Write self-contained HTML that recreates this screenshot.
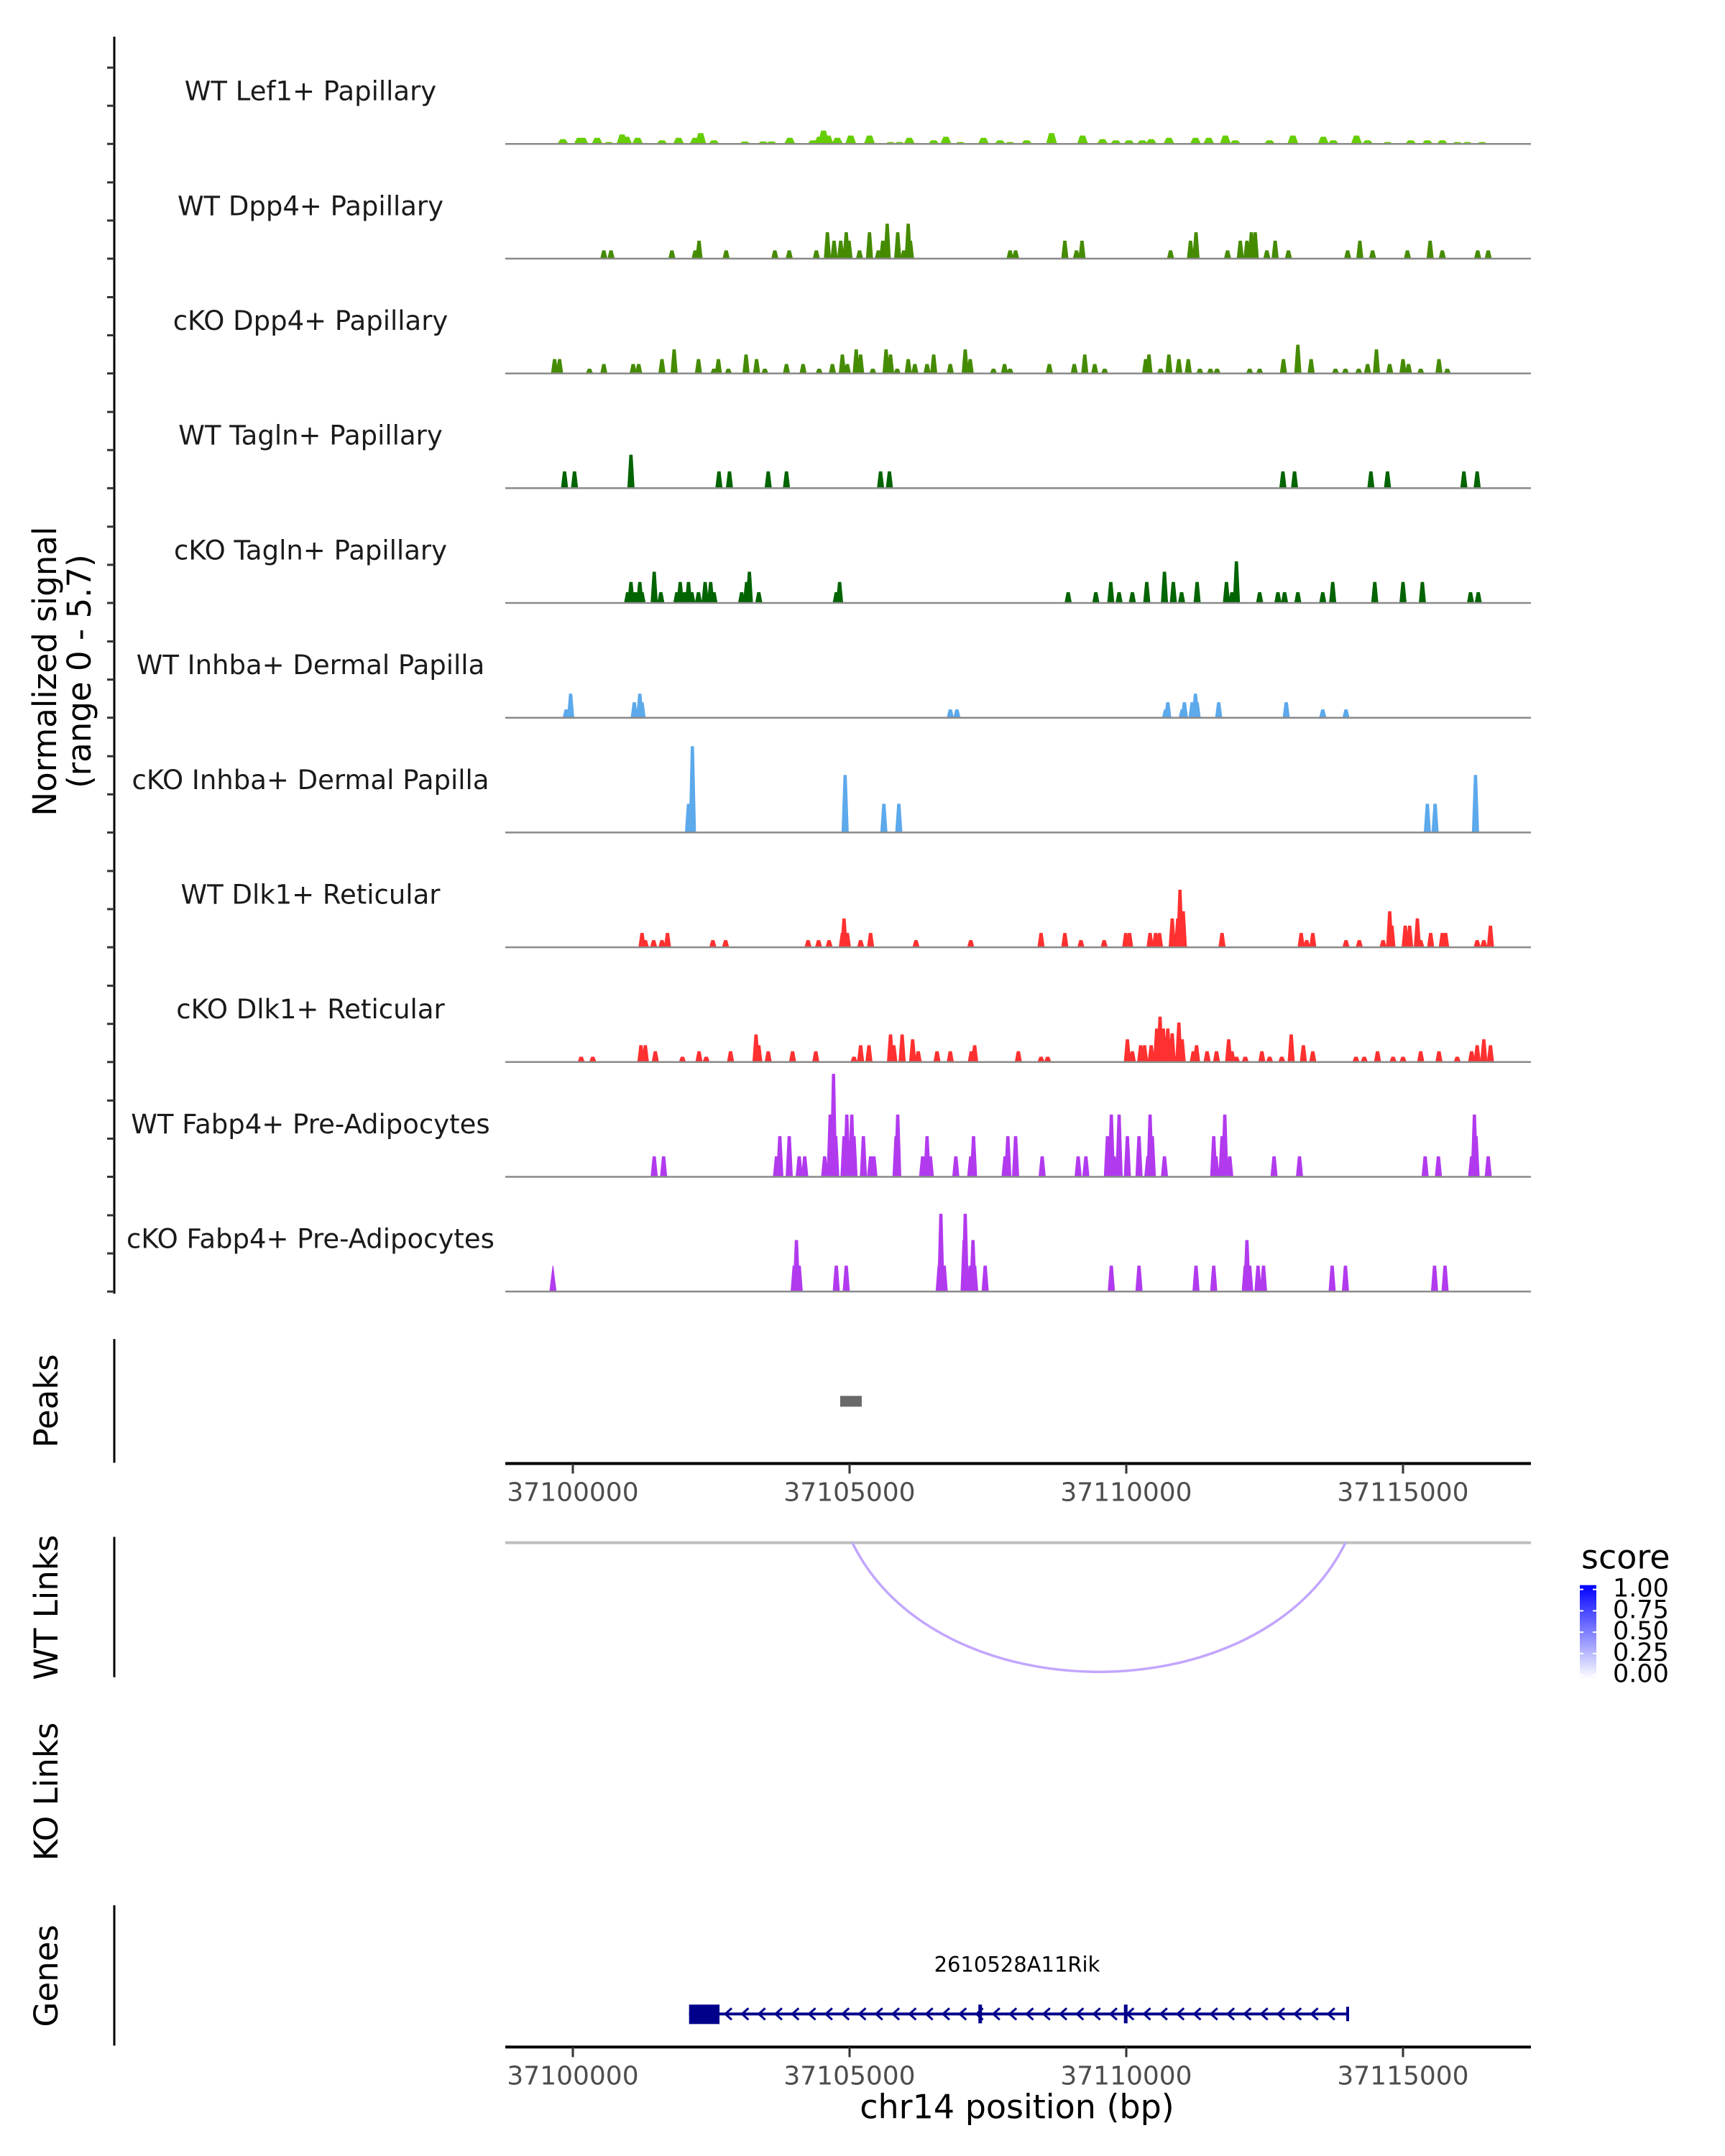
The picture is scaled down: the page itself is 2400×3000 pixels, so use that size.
<!DOCTYPE html>
<html><head><meta charset="utf-8">
<style>
html,body{margin:0;padding:0;background:#fff;}
svg{display:block;font-family:"DejaVu Sans","Liberation Sans",sans-serif;}
</style></head>
<body>
<svg id="chart" width="2400" height="3000" viewBox="0 0 2400 3000" xmlns="http://www.w3.org/2000/svg">
<g transform="translate(0,3) scale(1,1.0012)">
<g id="axes"></g>
<g id="tracks"></g>
<g id="lower"></g>
</g>
</svg>
<script>
// ---- data (positions in kb relative to chr14:37,100,000; values = normalized signal) ----
const trackNames = ["WT Lef1+ Papillary","WT Dpp4+ Papillary","cKO Dpp4+ Papillary","WT Tagln+ Papillary","cKO Tagln+ Papillary","WT Inhba+ Dermal Papilla","cKO Inhba+ Dermal Papilla","WT Dlk1+ Reticular","cKO Dlk1+ Reticular","WT Fabp4+ Pre-Adipocytes","cKO Fabp4+ Pre-Adipocytes"];
const trackColors = ["#66cd00","#458b00","#458b00","#006400","#006400","#5ca9ec","#5ca9ec","#ff3030","#ff3030","#b23aee","#b23aee"];
const pos0 = [-0.18,0.12,0.18,0.44,0.65,0.89,0.97,1.17,1.61,1.91,2.21,2.31,2.55,3.11,3.44,3.59,3.92,4.34,4.46,4.53,4.61,4.78,5.02,5.36,5.74,5.9,6.08,6.52,6.74,7.0,7.42,7.72,7.9,8.2,8.65,9.21,9.57,9.81,10.05,10.29,10.45,10.77,11.25,11.49,11.79,11.97,12.59,13.01,13.56,13.74,14.16,14.36,14.72,15.14,15.44,15.71,15.98,16.16,16.43];
const val0 = [0.25,0.32,0.32,0.32,0.1,0.5,0.38,0.32,0.19,0.32,0.32,0.57,0.19,0.13,0.13,0.13,0.32,0.19,0.38,0.7,0.44,0.32,0.44,0.44,0.1,0.1,0.32,0.19,0.38,0.1,0.32,0.19,0.1,0.19,0.57,0.44,0.25,0.19,0.19,0.19,0.25,0.32,0.32,0.32,0.44,0.19,0.19,0.44,0.38,0.19,0.44,0.19,0.1,0.19,0.19,0.19,0.1,0.1,0.1];
const pos1 = [0.56,0.69,1.79,2.21,2.28,2.77,3.65,3.91,4.4,4.6,4.72,4.84,4.94,4.99,5.18,5.36,5.52,5.6,5.68,5.87,5.98,6.06,6.1,7.9,8.0,8.89,9.1,9.2,10.8,11.16,11.26,11.83,12.06,12.18,12.26,12.33,12.54,12.69,12.93,14.0,14.22,14.45,15.08,15.49,15.71,16.35,16.54];
const val1 = [0.44,0.44,0.44,0.44,0.95,0.44,0.44,0.44,0.44,1.4,0.95,0.95,1.4,0.95,0.44,1.4,0.44,0.95,1.85,1.4,0.44,1.85,0.95,0.44,0.44,0.95,0.44,0.95,0.44,0.95,1.4,0.44,0.95,0.95,1.4,1.4,0.44,0.95,0.44,0.44,0.95,0.44,0.44,0.95,0.44,0.44,0.44];
const pos2 = [-0.33,-0.24,0.3,0.56,1.09,1.19,1.61,1.83,2.27,2.55,2.63,2.81,3.13,3.32,3.47,3.86,4.16,4.45,4.69,4.87,4.96,5.12,5.2,5.42,5.66,5.74,5.86,6.06,6.18,6.4,6.52,6.82,7.09,7.18,7.6,7.8,7.9,8.61,9.06,9.25,9.43,9.61,10.35,10.41,10.62,10.77,10.95,11.12,11.33,11.52,11.64,12.23,12.41,12.84,13.1,13.34,13.78,13.96,14.2,14.36,14.52,14.76,15.0,15.1,15.32,15.65,15.8];
const val2 = [0.76,0.76,0.25,0.5,0.5,0.5,0.76,1.27,0.76,0.25,0.76,0.25,1.0,0.76,0.25,0.5,0.5,0.25,0.5,1.0,0.5,1.27,1.0,0.25,1.27,1.0,0.25,0.76,0.5,0.5,1.0,0.5,1.27,0.76,0.25,0.5,0.25,0.5,0.5,1.0,0.5,0.25,0.76,1.0,0.25,1.0,0.76,0.76,0.25,0.25,0.25,0.25,0.25,0.76,1.52,0.76,0.25,0.25,0.25,0.5,1.27,0.5,0.76,0.5,0.25,0.76,0.25];
const pos3 = [-0.15,0.03,1.05,2.64,2.83,3.53,3.86,5.56,5.72,12.83,13.04,14.42,14.72,16.1,16.34];
const val3 = [0.89,0.89,1.77,0.89,0.89,0.89,0.89,0.89,0.89,0.89,0.89,0.89,0.89,0.89,0.89];
const pos4 = [0.99,1.05,1.13,1.21,1.25,1.47,1.59,1.88,1.94,2.02,2.09,2.15,2.27,2.39,2.49,2.55,3.05,3.14,3.19,3.36,4.76,4.82,8.95,9.45,9.72,9.87,10.11,10.37,10.69,10.85,11.0,11.28,11.81,11.91,11.99,12.41,12.74,12.86,13.1,13.55,13.73,14.49,15.0,15.35,16.22,16.36];
const val4 = [0.57,1.11,0.57,1.11,0.57,1.65,0.57,0.57,1.11,0.57,1.11,0.57,0.57,1.11,1.11,0.57,0.57,1.11,1.65,0.57,0.57,1.11,0.57,0.57,1.11,0.57,0.57,1.11,1.65,1.11,0.57,1.11,1.11,0.57,2.2,0.57,0.57,0.57,0.57,0.57,1.11,1.11,1.11,1.11,0.57,0.57];
const pos5 = [-0.12,-0.04,1.11,1.21,1.25,6.82,6.94,10.71,10.75,11.01,11.05,11.19,11.25,11.28,11.67,12.89,13.55,13.97];
const val5 = [0.44,1.27,0.82,1.27,0.82,0.44,0.44,0.44,0.82,0.44,0.82,0.82,1.27,0.82,0.82,0.82,0.44,0.44];
const pos6 = [2.09,2.16,4.92,5.62,5.89,15.44,15.58,16.31];
const val6 = [1.52,4.56,3.04,1.52,1.52,1.52,1.52,3.04];
const pos7 = [1.25,1.31,1.46,1.61,1.71,2.53,2.76,4.25,4.44,4.63,4.87,4.9,4.96,5.2,5.38,6.2,7.19,8.46,8.89,9.18,9.6,9.99,10.06,10.43,10.53,10.6,10.83,10.93,10.97,11.03,11.73,13.16,13.26,13.37,13.97,14.21,14.64,14.76,14.8,15.04,15.12,15.26,15.32,15.5,15.71,15.77,16.34,16.46,16.58];
const val7 = [0.76,0.38,0.38,0.38,0.76,0.38,0.38,0.38,0.38,0.38,0.76,1.52,0.76,0.38,0.76,0.38,0.38,0.76,0.76,0.38,0.38,0.76,0.76,0.76,0.76,0.76,1.52,1.52,3.04,1.9,0.76,0.76,0.38,0.76,0.38,0.38,0.38,1.9,1.14,1.14,1.14,1.52,0.38,0.76,0.76,0.76,0.38,0.38,1.14];
const pos8 = [0.15,0.36,1.23,1.31,1.49,1.98,2.28,2.41,2.85,3.31,3.36,3.53,3.97,4.39,5.08,5.2,5.35,5.74,5.8,5.95,6.14,6.24,6.58,6.82,7.2,7.26,8.05,8.46,8.58,10.02,10.11,10.26,10.33,10.45,10.55,10.61,10.67,10.75,10.83,10.95,11.01,11.21,11.27,11.46,11.63,11.85,11.91,11.99,12.15,12.45,12.59,12.81,12.98,13.2,13.37,14.15,14.3,14.54,14.82,15.0,15.32,15.65,15.98,16.24,16.34,16.46,16.58];
const val8 = [0.28,0.28,0.89,0.89,0.57,0.28,0.57,0.28,0.57,1.46,0.89,0.57,0.57,0.57,0.28,0.89,0.89,1.46,0.89,1.46,1.2,0.57,0.57,0.57,0.57,0.89,0.57,0.28,0.28,1.2,0.57,0.89,0.89,0.89,1.77,2.4,1.77,1.77,1.52,2.09,1.2,0.57,0.89,0.57,0.57,1.2,0.57,0.28,0.28,0.57,0.28,0.28,1.46,0.89,0.57,0.28,0.28,0.57,0.28,0.28,0.57,0.57,0.28,0.57,0.89,1.2,0.89];
const pos9 = [1.47,1.64,3.68,3.74,3.91,4.09,4.19,4.55,4.65,4.71,4.75,4.9,4.95,4.99,5.04,5.08,5.25,5.38,5.44,5.84,5.87,6.32,6.4,6.46,6.92,7.19,7.24,7.81,7.86,8.0,8.48,9.13,9.27,9.66,9.73,9.78,9.87,10.02,10.23,10.39,10.43,10.47,10.69,11.58,11.62,11.73,11.78,11.87,12.67,13.13,15.4,15.64,16.24,16.29,16.32,16.54];
const val9 = [1.08,1.08,1.08,2.15,2.15,1.08,1.08,1.08,3.29,5.44,2.15,2.15,3.29,1.08,3.29,2.15,2.15,1.08,1.08,2.15,3.29,1.08,2.15,1.08,1.08,1.08,2.15,1.08,2.15,2.15,1.08,1.08,1.08,2.15,3.29,1.08,3.29,2.15,2.15,1.08,3.29,2.15,1.08,2.15,1.08,2.15,3.29,1.08,1.08,1.08,1.08,1.08,1.08,3.29,2.15,1.08];
const pos10 = [-0.36,4.0,4.04,4.09,4.76,4.94,6.62,6.65,6.71,7.07,7.09,7.18,7.23,7.26,7.45,9.73,10.23,11.26,11.58,12.15,12.18,12.23,12.38,12.48,13.72,13.96,15.57,15.76];
const val10 = [1.37,1.37,2.72,1.37,1.37,1.37,1.37,4.11,1.37,2.72,4.11,1.37,2.72,1.37,1.37,1.37,1.37,1.37,1.37,1.37,2.72,1.37,1.37,1.37,1.37,1.37,1.37,1.37];
const trackPos = [pos0,pos1,pos2,pos3,pos4,pos5,pos6,pos7,pos8,pos9,pos10];
const trackVals = [val0,val1,val2,val3,val4,val5,val6,val7,val8,val9,val10];
const xTicks = [37100000,37105000,37110000,37115000];
const peakRegions = [[4.83,5.22]];
const wtLinks = [[5.05,13.96,0.3]];
const geneStart = 2.1, geneEnd = 14.0, geneUtr = [2.1,2.65], geneExons = [7.36,9.99];
const legendTicks = ["1.00","0.75","0.50","0.25","0.00"];

// ---- scales ----
const X0 = 797, PXKB = 77;
const x = kb => X0 + kb * PXKB;
const xbp = bp => x((bp - 37100000) / 1000);
const VPX = 26.3;
const baseY = i => 197 + i * 159.5;
const plotL = 703, plotR = 2130;
const NS = "http://www.w3.org/2000/svg";
function mk(tag, attrs, parent, text){
  const e = document.createElementNS(NS, tag);
  for (const k in attrs) e.setAttribute(k, attrs[k]);
  if (text !== undefined) e.textContent = text;
  parent.appendChild(e);
  return e;
}
const axes = document.getElementById('axes');
const tracks = document.getElementById('tracks');
const lower = document.getElementById('lower');

[[48,1795],[1858,2030],[2133,2328],[2645,2840]].forEach(function(r){
  const l = mk('line', {x1:159,x2:159,y1:r[0],y2:r[1],stroke:'#000','stroke-width':3}, axes);
  
  
});

trackNames.forEach(function(name, i){
  const b = baseY(i);
  const g = mk('g', {}, tracks);
  
  
  for (let k = 0; k < 3; k++) {
    const t = mk('line', {x1:149,x2:159,y1:b - k*53,y2:b - k*53,stroke:'#333','stroke-width':3}, axes);
    
    
  }
  const lab = mk('text', {x:432,y:b-71,'text-anchor':'middle','dominant-baseline':'middle','font-size':37,fill:'#1a1a1a'}, g, name);
  
  
  const w = (i === 0) ? 0.2 : 0.13;
  const ps = trackPos[i], vs = trackVals[i];
  let d = '';
  for (let j = 0; j < ps.length; j++) {
    const cx = x(ps[j]), h = vs[j] * VPX, hw = w * PXKB / 2;
    const top = (i === 10 && j === 0) ? 0.5 : hw * 0.45;
    d += 'M' + (cx-hw) + ' ' + b + 'L' + (cx-top) + ' ' + (b-h) + 'L' + (cx+top) + ' ' + (b-h) + 'L' + (cx+hw) + ' ' + b + 'Z';
  }
  const p = mk('path', {d:d, fill:trackColors[i]}, g);
  
  
  const bl = mk('line', {x1:plotL,x2:plotR,y1:b,y2:b,stroke:'#8a8a8a','stroke-width':2.5}, g);
  
  
});

const yt = mk('text', {transform:'translate(78,930) rotate(-90)','text-anchor':'middle','font-size':45,fill:'#000'}, axes);


mk('tspan', {x:0,y:0}, yt, 'Normalized signal');
mk('tspan', {x:0,y:48}, yt, '(range 0 - 5.7)');

[['Peaks',1944],['WT Links',2231],['KO Links',2487],['Genes',2743]].forEach(function(s){
  const t = mk('text', {transform:'translate(80,' + s[1] + ') rotate(-90)','text-anchor':'middle','font-size':45,fill:'#000'}, axes, s[0]);
  
  
});

peakRegions.forEach(function(r){
  const rc = mk('rect', {x:x(r[0]),y:1937,width:x(r[1])-x(r[0]),height:15,fill:'#696969'}, lower);
  
  
});

function xAxis(y, name){
  const g = mk('g', {}, lower);
  
  
  mk('line', {x1:plotL,x2:plotR,y1:y,y2:y,stroke:'#000','stroke-width':4}, g);
  xTicks.forEach(function(t){
    const tk = mk('line', {x1:xbp(t),x2:xbp(t),y1:y,y2:y+14,stroke:'#333','stroke-width':3}, g);
    
    
    const tl = mk('text', {x:xbp(t),y:y+52,'text-anchor':'middle','font-size':36,fill:'#4d4d4d'}, g, String(t));
    
    
  });
}
xAxis(2031, 'peaks-x-axis');
xAxis(2842, 'genes-x-axis');
const xt = mk('text', {x:1415,y:2941,'text-anchor':'middle','font-size':46,fill:'#000'}, lower, 'chr14 position (bp)');



const ll = mk('line', {x1:plotL,x2:plotR,y1:2141,y2:2141,stroke:'#bebebe','stroke-width':4}, lower);


wtLinks.forEach(function(k){
  const x1 = x(k[0]), x2 = x(k[1]), w = x2 - x1, y0 = 2141, h = 180;
  const arc = mk('path', {d:'M'+x1+' '+y0+' C'+(x1+0.17*w)+' '+(y0+1.33*h)+' '+(x2-0.17*w)+' '+(y0+1.33*h)+' '+x2+' '+y0, fill:'none', stroke:'#c2a6ff','stroke-width':3.5}, lower);
  
  
});

const lg = mk('g', {}, lower);


const defs = mk('defs', {}, lg);
const grad = mk('linearGradient', {id:'sg',x1:0,y1:0,x2:0,y2:1}, defs);
mk('stop', {offset:0,'stop-color':'#0000ff'}, grad);
mk('stop', {offset:1,'stop-color':'#ffffff'}, grad);
mk('text', {x:2200,y:2177,'font-size':46,fill:'#000'}, lg, 'score');
mk('rect', {x:2198,y:2200,width:23,height:130,fill:'url(#sg)'}, lg);
legendTicks.forEach(function(t, i){
  const yy = 2206 + i * 29.7;
  mk('line', {x1:2198,x2:2203,y1:yy,y2:yy,stroke:'#fff','stroke-width':2}, lg);
  mk('line', {x1:2216,x2:2221,y1:yy,y2:yy,stroke:'#fff','stroke-width':2}, lg);
  const tl = mk('text', {x:2244,y:yy,'dominant-baseline':'middle','font-size':35,fill:'#000'}, lg, t);
  
  
});

const gg = mk('g', {}, lower);


const gy = 2796, gc = '#00008b';
mk('line', {x1:x(geneStart),x2:x(geneEnd),y1:gy,y2:gy,stroke:gc,'stroke-width':4}, gg);
mk('rect', {x:x(geneUtr[0]),y:gy-13,width:x(geneUtr[1])-x(geneUtr[0]),height:27,fill:gc}, gg);
geneExons.forEach(function(e){
  mk('rect', {x:x(e)-2.5,y:gy-13,width:5,height:26,fill:gc}, gg);
});
mk('rect', {x:x(geneEnd)-2,y:gy-10,width:4,height:20,fill:gc}, gg);
let cd = '';
for (let cx = x(geneUtr[1]) + 12; cx < x(geneEnd) - 6; cx += 23.3) {
  cd += 'M' + (cx+5) + ' ' + (gy-8) + 'L' + (cx-4) + ' ' + gy + 'L' + (cx+5) + ' ' + (gy+8);
}
mk('path', {d:cd, fill:'none', stroke:gc,'stroke-width':3}, gg);
mk('text', {x:1415,y:2737,'text-anchor':'middle','font-size':29,fill:'#000'}, gg, '2610528A11Rik');
</script>
</body></html>
